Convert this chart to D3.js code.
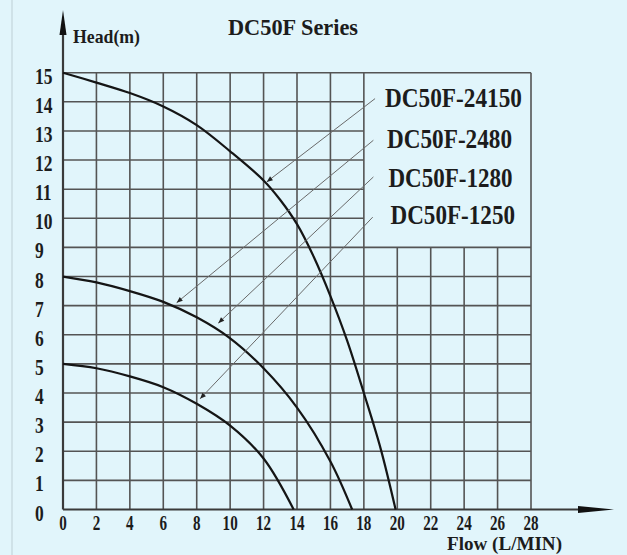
<!DOCTYPE html>
<html>
<head>
<meta charset="utf-8">
<script src="https://cdn.jsdelivr.net/npm/d3@7"></script>
<style>
  html, body { margin: 0; padding: 0; background: #e1f5fb; }
  svg { display: block; }
  text { font-family: "Liberation Serif", "DejaVu Serif", serif; font-weight: bold; fill: #1c1c1c; }
</style>
</head>
<body>
<svg id="chart" width="627" height="555"></svg>
<script>
// ---------- data ----------
const title = "DC50F Series";
const yAxisTitle = "Head(m)";
const xAxisTitle = "Flow (L/MIN)";
const xTickValues = [0, 2, 4, 6, 8, 10, 12, 14, 16, 18, 20, 22, 24, 26, 28];
const yTickValues = [0, 1, 2, 3, 4, 5, 6, 7, 8, 9, 10, 11, 12, 13, 14, 15];

// curve 1: DC50F-24150
const flowA = [0, 2, 4, 6, 8, 10, 12, 13, 14, 15, 16, 17, 18, 19, 19.9];
const headA = [15, 14.66, 14.3, 13.84, 13.2, 12.3, 11.3, 10.63, 9.8, 8.68, 7.33, 5.8, 4.0, 2.1, 0];
// curve 2: DC50F-2480 / DC50F-1280
const flowB = [0, 2, 4, 6, 8, 10, 12, 14, 16, 17.3];
const headB = [8, 7.8, 7.5, 7.13, 6.6, 5.88, 4.85, 3.5, 1.65, 0];
// curve 3: DC50F-1250
const flowC = [0, 2, 4, 6, 8, 10, 12, 13.8];
const headC = [5, 4.85, 4.57, 4.2, 3.63, 2.88, 1.75, 0];

// legend labels and leader lines (label end -> point on curve), in data units
const modelNames = ["DC50F-24150", "DC50F-2480", "DC50F-1280", "DC50F-1250"];
const leaderFromFlow = [18.67, 18.57, 18.57, 18.53];
const leaderFromHead = [14.11, 12.68, 11.42, 10.04];
const leaderToFlow = [12.19, 6.8, 9.29, 8.2];
const leaderToHead = [11.25, 7.1, 6.4, 3.8];

// ---------- drawing ----------
const svg = d3.select("#chart");
const x = d3.scaleLinear().domain([0, 28]).range([63, 531]);
const y = d3.scaleLinear().domain([0, 15]).range([509.5, 72.7]);

// faint page border line
svg.append("line").attr("x1", 12).attr("x2", 12).attr("y1", 0).attr("y2", 555)
  .attr("stroke", "#c3d6dc").attr("stroke-width", 1.2);

const gridColor = "#545454";
const grid = svg.append("g").attr("stroke", gridColor).attr("stroke-width", 1.6).attr("fill", "none");

// vertical grid lines
xTickValues.filter(v => v > 0).forEach(v => {
  const top = (v <= 18 || v === 28) ? 15 : 9;
  grid.append("line").attr("x1", x(v)).attr("x2", x(v)).attr("y1", y(0)).attr("y2", y(top));
});
// horizontal grid lines
yTickValues.filter(v => v > 0).forEach(v => {
  const right = (v <= 9 || v === 15) ? 28 : 18;
  grid.append("line").attr("x1", x(0)).attr("x2", x(right)).attr("y1", y(v)).attr("y2", y(v));
});

// axes with arrows
const axisColor = "#3a3a3a";
svg.append("line").attr("x1", x(0)).attr("x2", 585).attr("y1", y(0)).attr("y2", y(0))
  .attr("stroke", axisColor).attr("stroke-width", 2.2);
svg.append("path").attr("d", `M578,${y(0) - 3.5} L614,${y(0)} L578,${y(0) + 3.5} Z`).attr("fill", "#111");
svg.append("line").attr("x1", x(0)).attr("x2", x(0)).attr("y1", y(0)).attr("y2", 30)
  .attr("stroke", axisColor).attr("stroke-width", 2.2);
svg.append("path").attr("d", `M${x(0) - 3.5},35 L${x(0)},10 L${x(0) + 3.5},35 Z`).attr("fill", "#111");

// curves
const line = d3.line().x(d => x(d[0])).y(d => y(d[1])).curve(d3.curveCatmullRom.alpha(0.5));
[[flowA, headA], [flowB, headB], [flowC, headC]].forEach(([fs, hs]) => {
  svg.append("path").datum(fs.map((f, i) => [f, hs[i]]))
    .attr("d", line).attr("fill", "none").attr("stroke", "#151515").attr("stroke-width", 2.2);
});

// leader lines with small arrows
svg.append("defs").append("marker").attr("id", "arr").attr("viewBox", "0 0 10 10")
  .attr("refX", 10).attr("refY", 5).attr("markerWidth", 7).attr("markerHeight", 6)
  .attr("markerUnits", "userSpaceOnUse").attr("orient", "auto")
  .append("path").attr("d", "M0,1 L10,5 L0,9 Z").attr("fill", "#222");
modelNames.forEach((n, i) => {
  svg.append("line")
    .attr("x1", x(leaderFromFlow[i])).attr("y1", y(leaderFromHead[i]))
    .attr("x2", x(leaderToFlow[i])).attr("y2", y(leaderToHead[i]))
    .attr("stroke", "#6a6a6a").attr("stroke-width", 1).attr("marker-end", "url(#arr)");
});

// helper for condensed text
function ctext(px, py, str, size, sx, anchor) {
  svg.append("g").attr("transform", `translate(${px},${py}) scale(${sx},1)`)
    .append("text").attr("font-size", size).attr("text-anchor", anchor || "start").text(str);
}

// tick labels
xTickValues.forEach(v => ctext(x(v), 530, String(v), 21, 0.72, "middle"));
yTickValues.forEach(v => ctext(35, y(v) + 11, String(v), 23, 0.76, "start"));

// legend labels
const legX = [385, 387, 388.5, 390.5];
const legY = [107, 148, 186.5, 224];
const legW = [137, 125, 124, 124.5];
modelNames.forEach((n, i) => {
  svg.append("text").attr("x", legX[i]).attr("y", legY[i]).attr("font-size", 27)
    .attr("textLength", legW[i]).attr("lengthAdjust", "spacingAndGlyphs").text(n);
});

// titles
svg.append("text").attr("x", 228).attr("y", 35).attr("font-size", 24)
  .attr("textLength", 130).attr("lengthAdjust", "spacingAndGlyphs").text(title);
svg.append("text").attr("x", 73).attr("y", 43).attr("font-size", 19)
  .attr("textLength", 67).attr("lengthAdjust", "spacingAndGlyphs").text(yAxisTitle);
svg.append("text").attr("x", 447).attr("y", 550).attr("font-size", 19)
  .attr("textLength", 115).attr("lengthAdjust", "spacingAndGlyphs").text(xAxisTitle);
</script>
</body>
</html>
